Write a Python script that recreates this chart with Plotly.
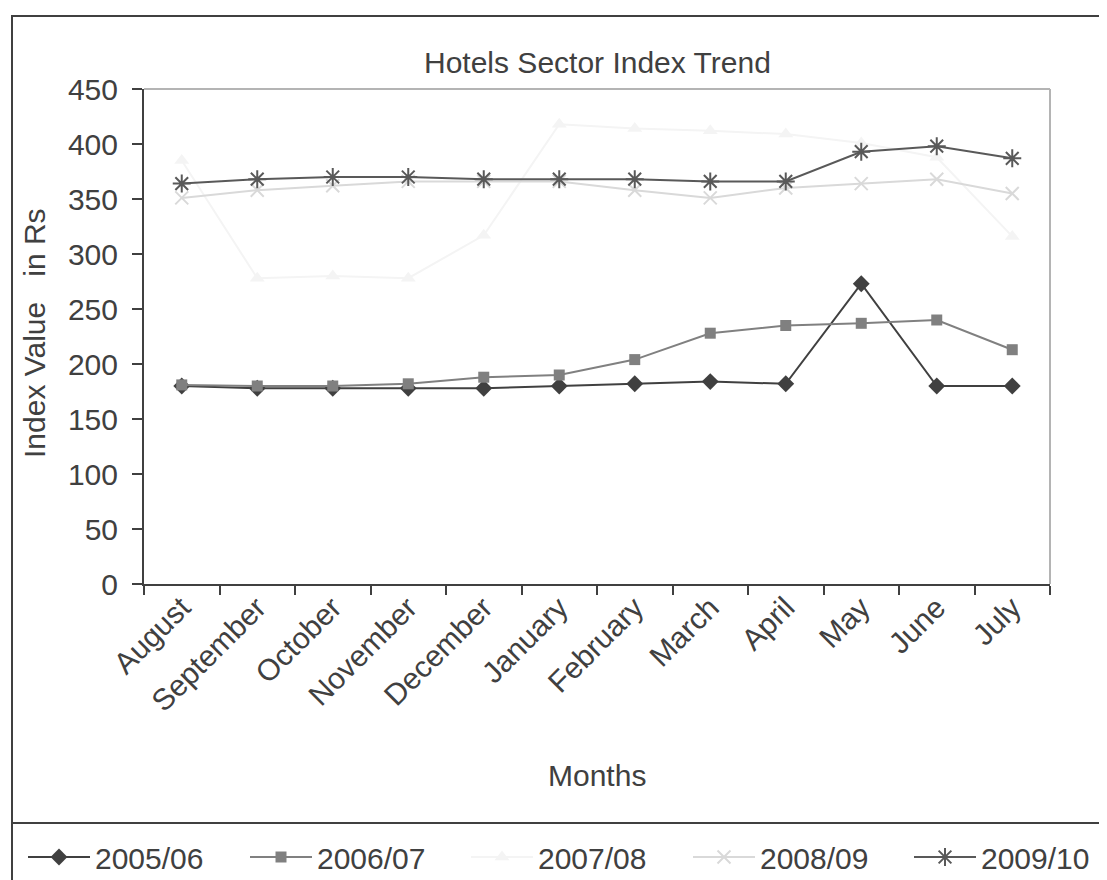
import plotly.graph_objects as go

months = ["August", "September", "October", "November", "December", "January",
          "February", "March", "April", "May", "June", "July"]
y0506 = [180, 178, 178, 178, 178, 180, 182, 184, 182, 273, 180, 180]
y0607 = [181, 180, 180, 182, 188, 190, 204, 228, 235, 237, 240, 213]
y0708 = [385, 278, 280, 278, 317, 418, 414, 412, 409, 401, 388, 316]
y0809 = [351, 358, 362, 366, 366, 366, 358, 351, 360, 364, 368, 355]
y0910 = [364, 368, 370, 370, 368, 368, 368, 366, 366, 393, 398, 387]
series_names = ["2005/06", "2006/07", "2007/08", "2008/09", "2009/10"]
yticks = [0, 50, 100, 150, 200, 250, 300, 350, 400, 450]

FONT = "Liberation Sans, Arial, sans-serif"
TXT = "#404040"
FS = 30

# the page body adds an 8px offset; all positions below are page pixels
OFF = 8
W, H = 1107 - OFF, 880 - OFF
L, R, T, B = 144 - OFF, 1050 - OFF, 89 - OFF, 584 - OFF


def px_x(p):
    return (p - OFF - L) / (R - L)


def px_y(p):
    return (B - (p - OFF)) / (B - T)


fig = go.Figure()
styles = [
    (y0506, "#404040", dict(symbol="diamond", size=13, color="#404040")),
    (y0607, "#808080", dict(symbol="square", size=11, color="#808080")),
    (y0708, "#f4f4f4", dict(symbol="triangle-up", size=13, color="#f4f4f4")),
    (y0809, "#d9d9d9", dict(symbol="x-thin-open", size=13, color="#d9d9d9",
                            line=dict(width=2, color="#d9d9d9"))),
    (y0910, "#595959", dict(symbol="asterisk-open", size=15, color="#595959",
                            line=dict(width=2, color="#595959"))),
]
legend_ids = ["legend", "legend2", "legend3", "legend4", "legend5"]
for name, (vals, col, mk), lid in zip(series_names, styles, legend_ids):
    fig.add_trace(go.Scatter(x=months, y=vals, name=name, mode="lines+markers",
                             line=dict(color=col, width=2), marker=mk,
                             legend=lid))

shapes = [
    dict(type="line", xref="paper", yref="paper", x0=0, x1=1, y0=1, y1=1,
         line=dict(color="#b4b4b4", width=2)),
    dict(type="line", xref="paper", yref="paper", x0=1, x1=1, y0=0, y1=1,
         line=dict(color="#b4b4b4", width=2)),
    dict(type="rect", xref="paper", yref="paper", x0=px_x(12), x1=px_x(1125),
         y0=px_y(900), y1=px_y(16), line=dict(color="#404040", width=2),
         fillcolor="rgba(0,0,0,0)", layer="below"),
    dict(type="line", xref="paper", yref="paper", x0=px_x(12), x1=px_x(1125),
         y0=px_y(823), y1=px_y(823), line=dict(color="#404040", width=2)),
]

annotations = [
    dict(text="Hotels Sector Index Trend", xref="paper", yref="paper",
         x=0.5, y=px_y(62), showarrow=False, xanchor="center", yanchor="middle",
         font=dict(size=FS, color=TXT, family=FONT)),
    dict(text="Index Value\u00a0\u00a0 in Rs", xref="paper", yref="paper",
         x=px_x(34), y=px_y(333), showarrow=False, textangle=-90,
         xanchor="center", yanchor="middle",
         font=dict(size=FS, color=TXT, family=FONT)),
    dict(text="Months", xref="paper", yref="paper",
         x=0.5, y=px_y(775), showarrow=False, xanchor="center", yanchor="middle",
         font=dict(size=FS, color=TXT, family=FONT)),
]

legend_symbol_starts = [28, 250, 471, 693, 914]
legend_layout = {}
for lid, s in zip(legend_ids, legend_symbol_starts):
    legend_layout[lid] = dict(
        orientation="h", x=px_x(s - 5), y=px_y(857), xanchor="left",
        yanchor="middle", itemwidth=62,
        font=dict(size=FS, color=TXT, family=FONT),
        bgcolor="rgba(0,0,0,0)")

fig.update_layout(
    width=W, height=H,
    margin=dict(l=L, r=W - R, t=T, b=H - B, pad=0, autoexpand=False),
    paper_bgcolor="white", plot_bgcolor="white",
    font=dict(family=FONT, color=TXT, size=FS),
    showlegend=True,
    shapes=shapes, annotations=annotations,
    **legend_layout,
)
fig.update_xaxes(type="category", range=[-0.5, 11.5], showgrid=False,
                 showline=True, linecolor="#404040", linewidth=2,
                 ticks="outside", tickson="boundaries", ticklen=9,
                 tickcolor="#404040", tickwidth=2, tickangle=-45,
                 ticklabelstandoff=-8, automargin=False,
                 tickfont=dict(size=FS, color=TXT, family=FONT), zeroline=False)
fig.update_yaxes(range=[0, 450], tickvals=yticks, showgrid=False,
                 showline=True, linecolor="#404040", linewidth=2,
                 ticks="outside", ticklen=10, tickcolor="#404040", tickwidth=2,
                 ticklabelstandoff=8, automargin=False,
                 tickfont=dict(size=FS, color=TXT, family=FONT), zeroline=False)

fig.write_html("out.html")
